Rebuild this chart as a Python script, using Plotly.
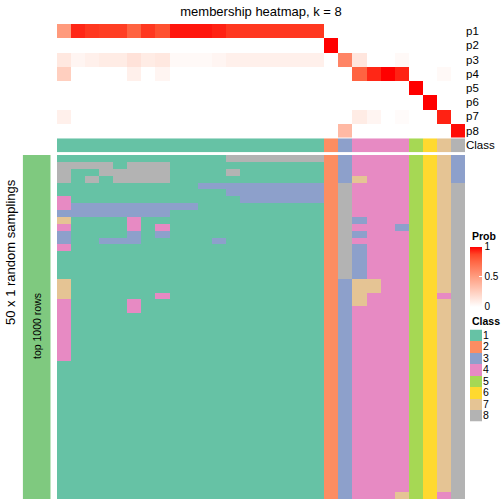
import plotly.graph_objects as go

W = H = 504

title_text = "membership heatmap, k = 8"
prob_rows = ["p1", "p2", "p3", "p4", "p5", "p6", "p7", "p8"]
class_labels = ["1", "2", "3", "4", "5", "6", "7", "8"]
column_class = [1] * 19 + [2, 3] + [4] * 4 + [5, 6, 7, 8]

p1 = [0.52, 0.93, 0.9, 0.89, 0.89, 0.77, 0.9, 0.84, 0.96, 0.96, 0.96, 0.94,
      0.9, 0.9, 0.9, 0.9, 0.9, 0.9, 0.9] + [0] * 10
p2 = [0] * 19 + [1.0] + [0] * 9
p3 = [0.12, 0.05, 0.08, 0.1, 0.1, 0.15, 0.1, 0.12, 0.03, 0.03, 0.03, 0.05,
      0.08, 0.08, 0.08, 0.08, 0.08, 0.08, 0.08,
      0, 0.62, 0.13, 0, 0, 0.03, 0, 0, 0, 0]
p4 = [0.25, 0, 0, 0, 0, 0.08, 0, 0.05] + [0] * 11 + [0, 0, 0.77, 0.93, 1.0, 0.94, 0, 0, 0.03, 0]
p5 = [0] * 25 + [1.0, 0, 0, 0]
p6 = [0] * 26 + [1.0, 0, 0]
p7 = [0.08] + [0] * 20 + [0.1, 0.05, 0, 0.02, 0, 0, 0.94, 0]
p8 = [0] * 20 + [0.36] + [0] * 7 + [0.98]

# class assignment per random sampling (rows) for each column
sampling_rows = [
    "11111111111188888882344445673",
    "88881888111111111112344445673",
    "81188888111181111112344445673",
    "81818888111111111112374445673",
    "11111111113333333332844445678",
    "11111111111133333332844445678",
    "41111111111113333332844445678",
    "43333333331111111112844445678",
    "33333333111111111112844445678",
    "71111411111111111112834445678",
    "41111414111111111112844435678",
    "31111313111111111112834445678",
    "31133311111311111112844445678",
    "41111111111111111112834445678",
    "11111111111111111112834445678",
    "11111111111111111112834445678",
    "11111111111111111112834445678",
    "11111111111111111112834445678",
    "71111111111111111112377445678",
    "71111111111111111112377445678",
    "71111114111111111112374445648",
    "41111411111111111112374445678",
    "41111411111111111112344445678",
    "41111111111111111112344445678",
    "41111111111111111112344445678",
    "41111111111111111112344445678",
    "41111111111111111112344445678",
    "41111111111111111112344445678",
    "41111111111111111112344445678",
    "41111111111111111112344445678",
] + ["11111111111111111112344445678"] * 19 + [
    "11111111111111111112344475648",
]

class_colors = ["#66C2A5", "#FC8D62", "#8DA0CB", "#E78AC3",
                "#A6D854", "#FFD92F", "#E5C494", "#B3B3B3"]
strip_color = "#7FC97F"

FONT = "Liberation Sans, Arial, Helvetica, sans-serif"

prob_scale = [[0, "#FFFFFF"], [0.25, "#FFCFBF"], [0.5, "#FF9E81"],
              [0.75, "#FF6846"], [0.875, "#FF4628"], [1, "#FF0000"]]
class_scale = []
for k, c in enumerate(class_colors):
    class_scale.append([k / 8, c])
    class_scale.append([(k + 1) / 8, c])


def xdom(left, right):
    return [left / W, right / W]


def ydom(top, bottom):
    return [1 - bottom / H, 1 - top / H]


ncol = len(column_class)
cols = list(range(ncol))
prob_z = [p1, p2, p3, p4, p5, p6, p7, p8]
sample_z = [[int(ch) for ch in row] for row in sampling_rows]

fig = go.Figure()

fig.add_trace(go.Heatmap(
    z=prob_z, x=cols, y=list(range(8)), colorscale=prob_scale, zmin=0, zmax=1,
    xaxis="x", yaxis="y", hoverinfo="skip",
    colorbar=dict(thickness=12, thicknessmode="pixels", len=60, lenmode="pixels",
                  x=470 / W, xanchor="left", y=1 - 276.5 / H, yanchor="middle",
                  xpad=0, ypad=0, outlinewidth=0,
                  tickvals=[0, 0.5, 1], ticktext=["0", "0.5", "1"],
                  ticks="inside", ticklen=3, tickcolor="white",
                  tickfont=dict(size=10, family=FONT, color="black")),
))

fig.add_trace(go.Heatmap(
    z=[column_class], x=cols, y=[0], colorscale=class_scale, zmin=0.5, zmax=8.5,
    showscale=False, xaxis="x2", yaxis="y2", hoverinfo="skip"))

fig.add_trace(go.Heatmap(
    z=sample_z, x=cols, y=list(range(len(sample_z))), colorscale=class_scale,
    zmin=0.5, zmax=8.5, showscale=False, xaxis="x3", yaxis="y3", hoverinfo="skip"))

fig.add_trace(go.Heatmap(
    z=[[int(c)] for c in class_labels], x=[0], y=list(range(8)),
    colorscale=class_scale, zmin=0.5, zmax=8.5, showscale=False,
    xaxis="x4", yaxis="y4", hoverinfo="skip"))

fig.add_trace(go.Heatmap(
    z=[[1] for _ in sample_z], x=[0], y=list(range(len(sample_z))),
    colorscale=[[0, strip_color], [1, strip_color]], showscale=False,
    xaxis="x5", yaxis="y5", hoverinfo="skip"))

hidden = dict(showgrid=False, zeroline=False, showticklabels=False, ticks="",
              showline=False)
lab_font = dict(size=11.5, family=FONT, color="black")

fig.update_layout(
    width=W, height=H, margin=dict(l=0, r=0, t=0, b=0),
    paper_bgcolor="white", plot_bgcolor="white", showlegend=False,
    title=dict(text=title_text, x=261 / W, xanchor="center", y=1 - 11 / H,
               yanchor="middle", font=dict(size=13, family=FONT, color="black")),
    xaxis=dict(domain=xdom(57, 465), range=[-0.5, ncol - 0.5], **hidden),
    yaxis=dict(domain=ydom(24, 137.6), range=[7.5, -0.5], showgrid=False,
               zeroline=False, ticks="", side="right", tickvals=list(range(8)),
               ticktext=prob_rows, tickfont=lab_font),
    xaxis2=dict(domain=xdom(57, 465), range=[-0.5, ncol - 0.5], anchor="y2", **hidden),
    yaxis2=dict(domain=ydom(138.3, 152.3), range=[0.5, -0.5], anchor="x2",
                showgrid=False, zeroline=False, ticks="", side="right",
                tickvals=[0], ticktext=["Class"], tickfont=lab_font),
    xaxis3=dict(domain=xdom(57, 465), range=[-0.5, ncol - 0.5], anchor="y3", **hidden),
    yaxis3=dict(domain=ydom(155, 499), range=[len(sample_z) - 0.5, -0.5],
                anchor="x3", **hidden),
    xaxis4=dict(domain=xdom(470, 482), range=[-0.5, 0.5], anchor="y4", **hidden),
    yaxis4=dict(domain=ydom(329.5, 421.5), range=[7.5, -0.5], anchor="x4",
                showgrid=False, zeroline=False, ticks="", side="right",
                tickvals=list(range(8)), ticktext=class_labels,
                tickfont=dict(size=10.5, family=FONT, color="black")),
    xaxis5=dict(domain=xdom(22.7, 50.7), range=[-0.5, 0.5], anchor="y5", **hidden),
    yaxis5=dict(domain=ydom(155, 499), range=[len(sample_z) - 0.5, -0.5],
                anchor="x5", **hidden),
    annotations=[
        dict(text="<b>Prob</b>", x=470 / W, y=1 - 236 / H, xref="paper", yref="paper",
             xanchor="left", yanchor="middle", showarrow=False,
             font=dict(size=10.5, family=FONT, color="black")),
        dict(text="<b>Class</b>", x=470 / W, y=1 - 321 / H, xref="paper", yref="paper",
             xanchor="left", yanchor="middle", showarrow=False,
             font=dict(size=10.5, family=FONT, color="black")),
        dict(text="50 x 1 random samplings", x=10 / W, y=1 - 252 / H, xref="paper",
             yref="paper", xanchor="center", yanchor="middle", textangle=-90,
             showarrow=False, font=dict(size=13, family=FONT, color="black")),
        dict(text="top 1000 rows", x=37 / W, y=1 - 326 / H, xref="paper",
             yref="paper", xanchor="center", yanchor="middle", textangle=-90,
             showarrow=False, font=dict(size=10.5, family=FONT, color="black")),
    ],
)

fig.write_html("out.html", config={"displayModeBar": False})

# remove the default page margin so the 504x504 figure fills the window
with open("out.html", "r", encoding="utf-8") as fh:
    html = fh.read()
html = html.replace("<head>", "<head><style>html,body{margin:0;padding:0;overflow:hidden;}</style>", 1)
with open("out.html", "w", encoding="utf-8") as fh:
    fh.write(html)
